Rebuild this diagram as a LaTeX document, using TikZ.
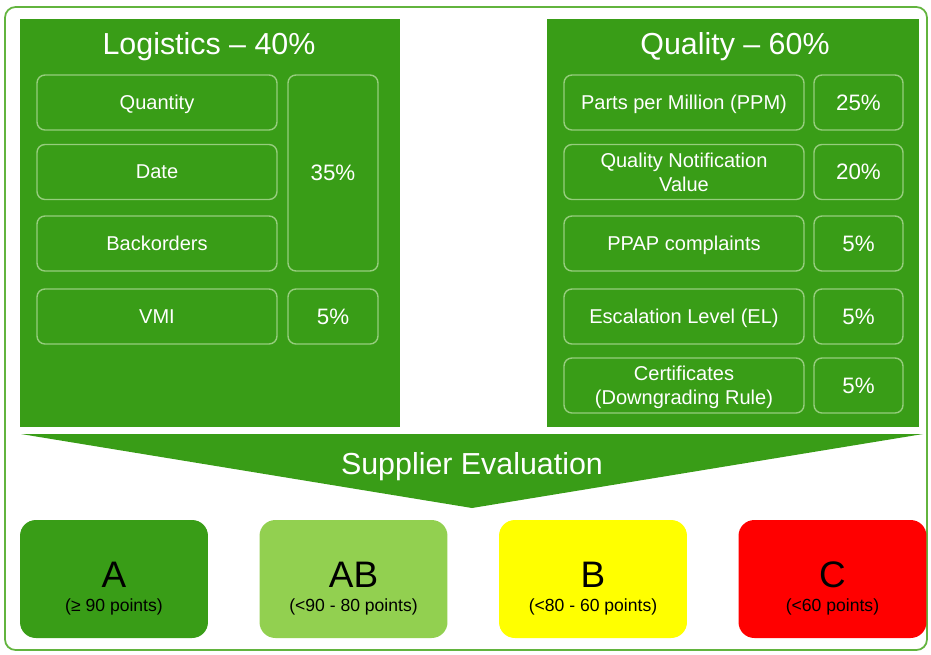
\documentclass[tikz,border=0pt]{standalone}
\usepackage{fontspec}
\setmainfont{Liberation Sans}
\usepackage{tikz}
\usetikzlibrary{positioning}
\definecolor{evalgreen}{RGB}{57,157,23}
\definecolor{framegreen}{RGB}{98,180,62}
\definecolor{boxline}{RGB}{150,205,125}
\definecolor{gradeAB}{RGB}{146,208,80}
\definecolor{gradeB}{RGB}{255,255,0}
\definecolor{gradeC}{RGB}{255,0,0}
\begin{document}
\begin{tikzpicture}[x=0.02cm, y=-0.02cm,
        title/.style={text=white, font=\fontsize{17.3}{20}\selectfont},
        crit/.style={draw=boxline, line width=0.8pt, rounded corners=4.5pt, text=white,
        align=center, inner sep=0pt, text depth=0pt, minimum width=4.8cm, minimum height=1.1cm,
        font=\fontsize{11.4}{13.6}\selectfont},
        weight/.style={crit, minimum width=1.8cm, font=\fontsize{12.7}{15}\selectfont},
        grade/.style={rounded corners=9pt, minimum width=3.76cm, minimum height=2.36cm},
        letter/.style={font=\fontsize{21}{24}\selectfont},
        points/.style={font=\fontsize{10}{12}\selectfont}]
        \useasboundingbox (0,0) rectangle (931,654);
        % draw outer frame
        \draw[framegreen, line width=1pt, rounded corners=6pt] (5,7) rectangle (927,650);
        % logistics panel
        \fill[evalgreen] (20,19) rectangle (400,427);
        \node[title] (logi) at (209,47) {Logistics -- 40\%};
        \foreach \y/\name/\descr in {102.5/qty/Quantity, 172/date/Date, 243.5/back/Backorders, 316.5/vmi/VMI}
        \node[crit] (\name) at (157,\y) {\descr};
        \node[weight, minimum height=3.92cm] (w35) at (333,173) {35\%};
        \node[weight] (w5) at (333,316.5) {5\%};
        % quality panel
        \fill[evalgreen] (547,19) rectangle (919,427);
        \node[title] (qual) at (735,47) {Quality -- 60\%};
        \foreach \y/\name/\descr/\perc in
        {102.5/ppm/{Parts per Million (PPM)}/25, 172/qnv/{Quality Notification\\Value}/20,
        243.5/ppap/{PPAP complaints}/5, 316.5/esc/{Escalation Level (EL)}/5,
        385.5/cert/{Certificates\\(Downgrading Rule)}/5}
        {
        \node[crit] (\name) at (684,\y) {\descr};
        \node[weight, minimum width=1.78cm] (\name-w) at (858.5,\y) {\perc\%};
        }
        % arrow down to the grades
        \fill[evalgreen] (21,434) -- (923,434) -- (472,508) -- cycle;
        \node[title] (eval) at (472,467) {Supplier Evaluation};
        % grade boxes
        \foreach \x/\name/\col/\descr/\pts in
        {114/gA/evalgreen/A/{(≥ 90 points)}, 353.5/gAB/gradeAB/AB/{(<90 - 80 points)},
        593/gB/gradeB/B/{(<80 - 60 points)}, 832.5/gC/gradeC/C/{(<60 points)}}
        {
        \node[grade, fill=\col] (\name) at (\x,579) {};
        \node[letter] (\name-l) at (\x,575) {\descr};
        \node[points] (\name-p) at (\x,607) {\pts};
        }
\end{tikzpicture}
\end{document}
